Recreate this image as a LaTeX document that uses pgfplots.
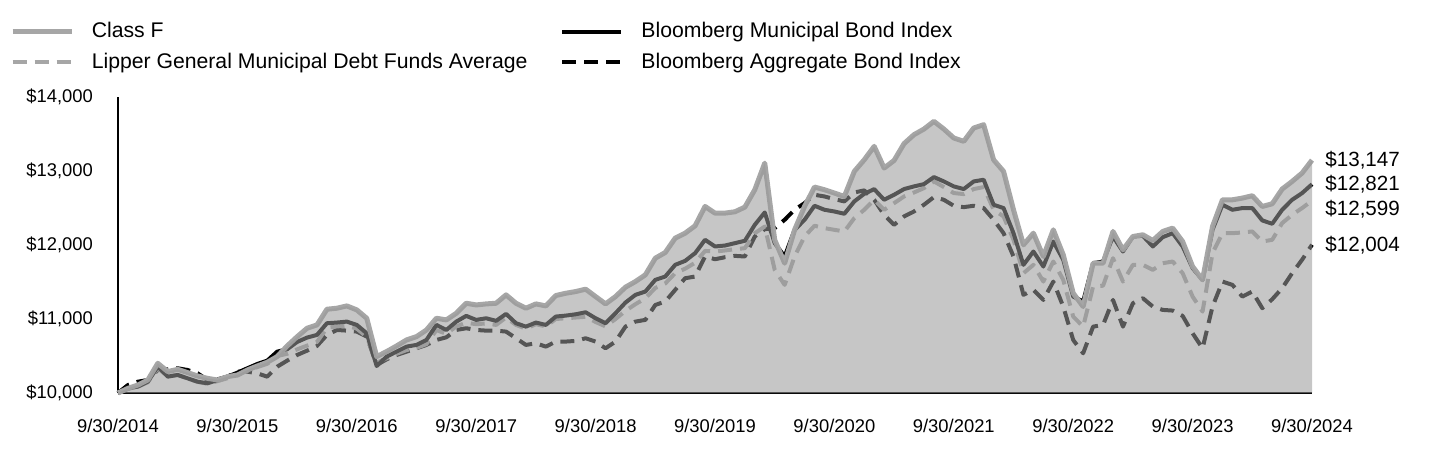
\documentclass[border=0pt]{standalone}
\usepackage{fontspec}
\setmainfont{Liberation Sans}
\usepackage{pgfplots}
\usepackage{pgfplotstable}
\pgfplotsset{compat=1.18}
\definecolor{lgray}{HTML}{A6A6A6}
\definecolor{fillg}{gray}{0.6}

\pgfplotstableread{
m F M L A
0 10000 10000 10000 10000
1 10063 10063 10055 10108
2 10108 10086 10085 10153
3 10176 10153 10145 10176
4 10401 10356 10335 10311
5 10289 10221 10225 10320
6 10320 10244 10245 10334
7 10275 10198 10195 10311
8 10230 10153 10150 10266
9 10198 10131 10125 10176
10 10176 10176 10160 10185
11 10221 10221 10200 10221
12 10243 10275 10250 10289
13 10311 10334 10300 10289
14 10365 10392 10350 10266
15 10415 10437 10395 10221
16 10492 10559 10500 10356
17 10636 10591 10530 10437
18 10760 10690 10590 10514
19 10875 10749 10640 10572
20 10920 10785 10690 10636
21 11132 10943 10880 10785
22 11146 10952 10900 10852
23 11177 10965 10910 10843
24 11123 10920 10870 10830
25 11010 10807 10760 10762
26 10492 10365 10410 10379
27 10560 10492 10470 10455
28 10636 10560 10530 10514
29 10717 10627 10580 10559
30 10762 10650 10610 10604
31 10852 10717 10660 10650
32 11010 10920 10850 10717
33 10988 10852 10800 10753
34 11078 10965 10900 10852
35 11213 11042 10950 10875
36 11190 10988 10930 10852
37 11204 11010 10940 10843
38 11213 10975 10920 10843
39 11326 11069 11020 10830
40 11213 10943 10920 10740
41 11146 10897 10870 10650
42 11204 10952 10930 10672
43 11177 10920 10900 10627
44 11317 11033 11000 10695
45 11348 11046 11010 10695
46 11371 11064 11020 10704
47 11403 11091 11030 10740
48 11303 11010 10960 10695
49 11204 10943 10900 10604
50 11303 11078 11000 10695
51 11430 11222 11110 10897
52 11506 11326 11200 10965
53 11597 11371 11280 10988
54 11822 11529 11420 11190
55 11899 11574 11480 11236
56 12093 11732 11620 11394
57 12160 11786 11680 11551
58 12260 11890 11760 11574
59 12521 12070 11920 11845
60 12431 11980 11912 11808
61 12431 11993 11926 11835
62 12449 12025 11944 11853
63 12512 12057 11957 11845
64 12747 12273 12160 12115
65 13107 12440 12250 12214
66 12070 12025 11664 12228
67 11754 11845 11461 12341
68 12205 12205 11845 12476
69 12521 12340 12115 12566
70 12783 12530 12260 12679
71 12747 12476 12228 12656
72 12702 12453 12205 12620
73 12656 12422 12183 12589
74 12995 12589 12363 12710
75 13152 12692 12476 12738
76 13333 12755 12611 12611
77 13040 12611 12476 12408
78 13143 12679 12566 12273
79 13370 12756 12656 12386
80 13491 12792 12710 12453
81 13567 12823 12769 12544
82 13671 12918 12859 12647
83 13567 12859 12783 12611
84 13446 12792 12702 12530
85 13401 12756 12688 12512
86 13581 12859 12756 12530
87 13626 12882 12783 12499
88 13152 12544 12476 12341
89 12995 12499 12386 12160
90 12476 12160 12070 11845
91 12002 11732 11619 11326
92 12160 11912 11732 11394
93 11845 11709 11506 11258
94 12205 12047 11777 11506
95 11867 11800 11529 11168
96 11349 11303 11033 10717
97 11168 11236 10897 10537
98 11754 11754 11439 10897
99 11754 11777 11450 10920
100 12183 12115 11822 11258
101 11935 11912 11506 10897
102 12115 12115 11732 11213
103 12138 12124 11732 11281
104 12061 11980 11664 11168
105 12183 12106 11754 11123
106 12228 12160 11777 11114
107 12047 11980 11619 11042
108 11709 11687 11303 10807
109 11529 11529 11100 10604
110 12250 12205 11890 11168
111 12611 12544 12160 11506
112 12611 12476 12160 11461
113 12634 12499 12169 11303
114 12666 12499 12183 11371
115 12521 12332 12047 11146
116 12557 12287 12070 11267
117 12756 12476 12296 11416
118 12859 12611 12408 11619
119 12972 12701 12499 11800
120 13147 12821 12599 12004
}\data

\begin{document}
\begin{tikzpicture}
\useasboundingbox (-59pt,-37.5pt) rectangle (661pt,196.5pt);
\begin{axis}[
  at={(0,0)}, anchor=south west,
  width=597pt, height=148pt, scale only axis,
  xmin=0, xmax=120, ymin=10000, ymax=14000,
  clip=false,
  axis lines*=left,
  axis line style={line width=1pt, black},
  scaled y ticks=false,
  xtick={0,12,...,120},
  xticklabels={9/30/2014,9/30/2015,9/30/2016,9/30/2017,9/30/2018,9/30/2019,9/30/2020,9/30/2021,9/30/2022,9/30/2023,9/30/2024},
  ytick={10000,11000,12000,13000,14000},
  yticklabels={{\$10,000},{\$11,000},{\$12,000},{\$13,000},{\$14,000}},
  major tick length=0pt,
  tick label style={font=\fontsize{9.2}{10}\selectfont},
  yticklabel style={xshift=-9pt},
  xticklabel style={yshift=-9.5pt},
  legend columns=2,
  legend cell align=left,
  legend image code/.code={\draw[#1] (0pt,0pt) -- (29.5pt,0pt);},
  legend style={at={(axis description cs:0,1)}, anchor=north west,
    xshift=-54pt, yshift=39.5pt, draw=none, fill=none, inner sep=0pt,
    font=\fontsize{10.6}{12}\selectfont, row sep=2pt,
    /tikz/every odd column/.append style={column sep=7pt},
    /tikz/every even column/.append style={column sep=14.5pt}},
]
\addlegendimage{lgray, line width=2.2pt}
\addlegendentry{Class F}
\addlegendimage{black, line width=2pt}
\addlegendentry{Bloomberg Municipal Bond Index}
\addlegendimage{lgray, line width=2.2pt, dash pattern=on 7pt off 4pt}
\addlegendentry{Lipper General Municipal Debt Funds Average}
\addlegendimage{black, line width=2pt, dash pattern=on 7pt off 4pt}
\addlegendentry{Bloomberg Aggregate Bond Index}

\addplot[black, line width=2pt, dash pattern=on 7pt off 4pt, line join=round, forget plot] table[x=m,y=A]{\data};
\addplot[lgray, line width=2pt, dash pattern=on 7pt off 4pt, line join=round, forget plot] table[x=m,y=L]{\data};
\addplot[black, line width=2pt, line join=round, forget plot] table[x=m,y=M]{\data};
\addplot[lgray, line width=2.5pt, line join=round, forget plot] table[x=m,y=F]{\data};
\addplot[fill=fillg, fill opacity=0.557, draw=none, forget plot] table[x=m,y=F]{\data} \closedcycle;

\node[anchor=west, inner sep=0pt, font=\fontsize{10.3}{12}\selectfont] at (axis cs:120,13147) [xshift=6.5pt] {\$13,147};
\node[anchor=west, inner sep=0pt, font=\fontsize{10.3}{12}\selectfont] at (axis cs:120,12821) [xshift=6.5pt] {\$12,821};
\node[anchor=west, inner sep=0pt, font=\fontsize{10.3}{12}\selectfont] at (axis cs:120,12490) [xshift=6.5pt] {\$12,599};
\node[anchor=west, inner sep=0pt, font=\fontsize{10.3}{12}\selectfont] at (axis cs:120,12004) [xshift=6.5pt] {\$12,004};
\end{axis}
\end{tikzpicture}
\end{document}
